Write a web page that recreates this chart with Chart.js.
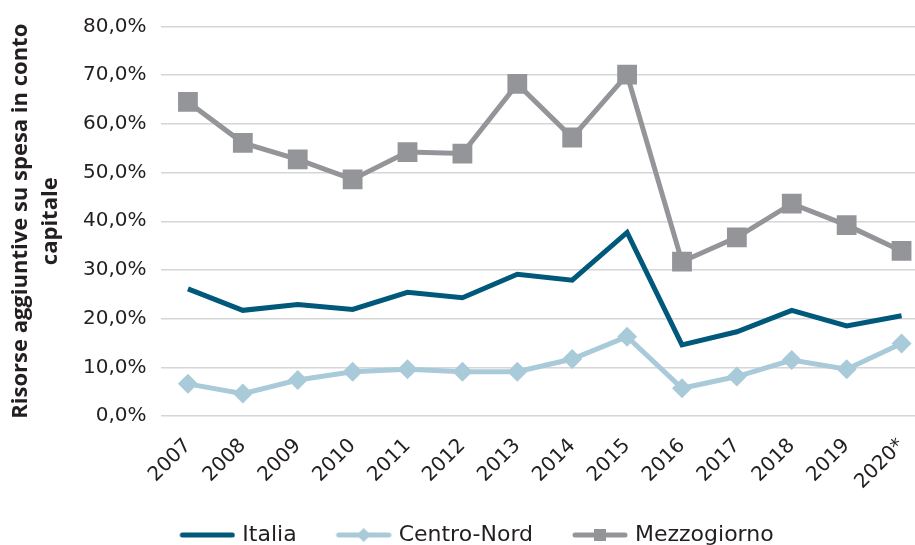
<!DOCTYPE html>
<html>
<head>
<meta charset="utf-8">
<script src="https://cdn.jsdelivr.net/npm/chart.js@4.4.1/dist/chart.umd.min.js"></script>
<style>
  html, body { margin: 0; padding: 0; background: #fff; overflow: hidden; }
  #wrap { width: 943px; height: 545px; }
</style>
</head>
<body>
<div id="wrap"><canvas id="chart" width="943" height="545"></canvas></div>
<script>
// anni (2020 = stima)
const years = ['2007', '2008', '2009', '2010', '2011', '2012', '2013', '2014', '2015', '2016', '2017', '2018', '2019', '2020*'];

// quota risorse aggiuntive su spesa in conto capitale, in %
const italia = [26.1, 21.7, 22.9, 21.9, 25.4, 24.3, 29.1, 27.9, 37.7, 14.6, 17.3, 21.7, 18.5, 20.6];
const centroNord = [6.6, 4.6, 7.4, 9.1, 9.6, 9.1, 9.1, 11.7, 16.3, 5.7, 8.1, 11.5, 9.6, 14.9];
const mezzogiorno = [64.5, 56.1, 52.7, 48.6, 54.2, 53.9, 68.2, 57.2, 70.1, 31.7, 36.7, 43.6, 39.2, 33.9];

const seriesNames = ['Italia', 'Centro-Nord', 'Mezzogiorno'];
const yMin = 0;
const yMax = 80;
const yStep = 10;

const colItalia = '#00587b';
const colCentro = '#a9cad8';
const colMezzo = '#939598';
const textCol = '#231f20';

// icona linea + marcatore per la legenda (spostata a destra di 7px nel box)
function legendIcon(color, marker) {
    const c = document.createElement('canvas');
    c.width = 70;
    c.height = 20;
    const g = c.getContext('2d');
    const x0 = 14;
    g.strokeStyle = color;
    g.fillStyle = color;
    g.lineWidth = 5;
    g.lineCap = 'round';
    g.beginPath();
    g.moveTo(x0 + 3, 10);
    g.lineTo(x0 + 53, 10);
    g.stroke();
    if (marker === 'rect') {
        g.fillRect(x0 + 22, 4, 12, 12);
    } else if (marker === 'diamond') {
        g.beginPath();
        g.moveTo(x0 + 28, 3);
        g.lineTo(x0 + 35, 10);
        g.lineTo(x0 + 28, 17);
        g.lineTo(x0 + 21, 10);
        g.closePath();
        g.fill();
    }
    return c;
}

const icons = [
    legendIcon(colItalia, null),
    legendIcon(colCentro, 'diamond'),
    legendIcon(colMezzo, 'rect')
];

const ctx = document.getElementById('chart').getContext('2d');
new Chart(ctx, {
    type: 'line',
    data: {
        labels: years,
        datasets: [{
            label: seriesNames[0],
            data: italia,
            borderColor: colItalia,
            backgroundColor: colItalia,
            borderWidth: 5,
            pointRadius: 0,
            pointHoverRadius: 0,
            tension: 0
        }, {
            label: seriesNames[1],
            data: centroNord,
            borderColor: colCentro,
            backgroundColor: colCentro,
            borderWidth: 5,
            pointStyle: 'rectRot',
            pointRadius: 10,
            pointBorderWidth: 0,
            tension: 0
        }, {
            label: seriesNames[2],
            data: mezzogiorno,
            borderColor: colMezzo,
            backgroundColor: colMezzo,
            borderWidth: 5,
            pointStyle: 'rect',
            pointRadius: 14,
            pointBorderWidth: 0,
            tension: 0
        }]
    },
    options: {
        responsive: false,
        animation: false,
        layout: {
            padding: { top: 26.5, left: 0, right: 0, bottom: -11 }
        },
        plugins: {
            tooltip: { enabled: false },
            legend: {
                position: 'bottom',
                labels: {
                    usePointStyle: true,
                    pointStyleWidth: 62,
                    padding: 29,
                    color: textCol,
                    font: { family: 'DejaVu Sans', size: 22 },
                    generateLabels: (chart) => {
                        const items = Chart.defaults.plugins.legend.labels.generateLabels(chart);
                        items.forEach((it, i) => { it.pointStyle = icons[i]; });
                        return items;
                    }
                }
            }
        },
        scales: {
            x: {
                offset: true,
                grid: { display: false },
                border: { display: false },
                ticks: {
                    color: textCol,
                    font: { family: 'DejaVu Sans', size: 20 },
                    minRotation: 45,
                    maxRotation: 45,
                    padding: 10
                },
                afterFit: (s) => { s.height = 79; }
            },
            y: {
                min: yMin,
                max: yMax,
                grid: { color: '#d6d6d6', lineWidth: 1.5, drawTicks: false },
                border: { display: false },
                ticks: {
                    stepSize: yStep,
                    padding: 14,
                    color: textCol,
                    font: { family: 'DejaVu Sans', size: 20 },
                    callback: (v) => v.toFixed(1).replace('.', ',') + '%'
                },
                title: {
                    display: true,
                    text: ['Risorse aggiuntive su spesa in conto', 'capitale'],
                    color: textCol,
                    font: { family: 'Open Sans', size: 22, weight: 'bold', lineHeight: 1.35 },
                    padding: { top: 6, bottom: 0 }
                },
                afterFit: (s) => { s.width = 160.5; }
            },
            yRight: {
                position: 'right',
                display: true,
                grid: { display: false },
                border: { display: false },
                ticks: { display: false },
                afterFit: (s) => { s.width = 12.5; }
            }
        }
    }
});
</script>
</body>
</html>
